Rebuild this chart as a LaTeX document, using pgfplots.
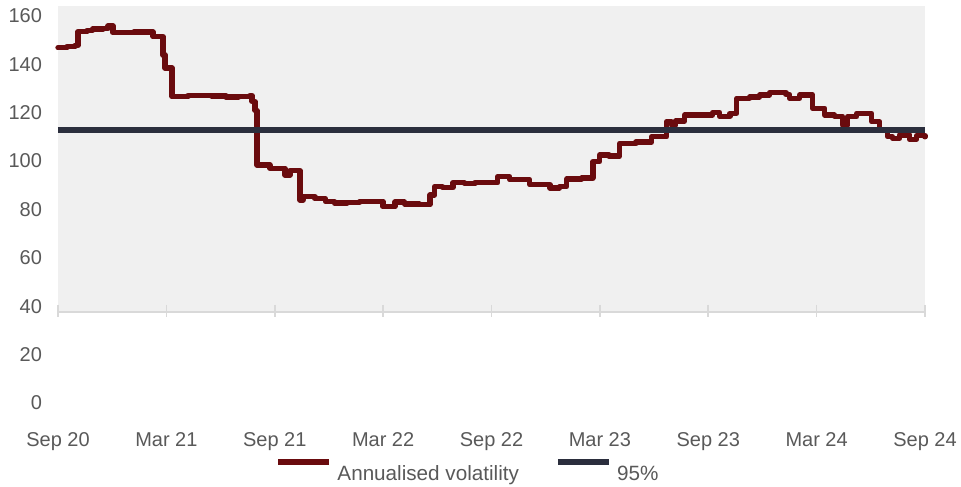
\documentclass[border=0pt]{standalone}
\usepackage{pgfplots}
\pgfplotsset{compat=1.18}
\usepackage{fontspec}
\setmainfont{Liberation Sans}

\definecolor{volred}{HTML}{6A0B0E}
\definecolor{navyline}{HTML}{2B2E3D}
\definecolor{txtgray}{HTML}{595959}
\definecolor{bggray}{HTML}{F0F0F0}
\definecolor{axgray}{HTML}{D9D9D9}

\begin{document}
\begin{tikzpicture}
\useasboundingbox (-43.5pt,-62.25pt) rectangle (677.25pt,302.25pt);
\begin{axis}[
	at={(0,0)}, anchor=south west,
	x=13.547pt, y=1.815pt,
	xmin=0, xmax=48,
	ymin=0, ymax=164,
	clip=false,
	axis line style={draw=none},
	major tick length=0pt,
	tick style={draw=none},
	xtick={0,6,...,48},
	xticklabels={Sep 20,Mar 21,Sep 21,Mar 22,Sep 22,Mar 23,Sep 23,Mar 24,Sep 24},
	ytick={0,20,...,160},
	/pgf/number format/assume math mode=true,
	tick label style={font=\fontsize{15}{18}\selectfont, text=txtgray},
	xticklabel style={anchor=base, yshift=-32.8pt},
	yticklabel style={anchor=east, xshift=-8.5pt},
	legend columns=2,
	legend style={
		draw=none, fill=none,
		at={(0.2503,-0.1714)}, anchor=west,
		inner sep=0pt,
		nodes={inner sep=0pt, text=txtgray},
		font=\fontsize{15.5}{18}\selectfont,
		/tikz/every odd column/.append style={column sep=3.9pt},
		/tikz/every even column/.append style={column sep=27pt},
	},
	legend image code/.code={\draw[#1, line width=4.5pt, line cap=butt] (0pt,9pt) -- (38.25pt,9pt);},
]

% plot background and category axis
\fill[bggray] (axis cs:0,37.6) rectangle (axis cs:48,164);
\draw[axgray, line width=1.5pt] (axis cs:0,37.6) -- (axis cs:48,37.6);
\pgfplotsinvokeforeach{0,6,...,48}{
	\draw[axgray, line width=1.2pt] (axis cs:#1,40.5) -- (axis cs:#1,35.5);
}

% Annualised volatility
\addplot[const plot, volred, line width=4pt, line join=round, line cap=round] coordinates {
	(0,146.8) (0.5,147.2) (0.94,147.8) (1.11,153.4) (1.6,153.8) (1.9,154.5)
	(2.5,154.8) (2.77,155.8) (3.04,153.0) (4.2,153.3) (5.26,151.4) (5.81,143.8)
	(5.92,138.4) (6.31,126.6) (7.2,127.0) (8.5,126.8) (9.3,126.4) (10.0,126.6)
	(10.63,127.0) (10.74,124.6) (10.90,121.0) (11.01,98.3) (11.73,97.0) (12.56,94.2)
	(12.84,96.0) (13.39,83.9) (13.56,85.2) (14.22,84.4) (14.8,83.3) (15.3,82.6)
	(16.0,82.8) (16.71,83.3) (17.99,81.1) (18.65,83.0) (19.20,82.2) (20.03,81.9)
	(20.59,86.0) (20.86,89.4) (21.3,89.0) (21.86,91.0) (22.5,90.6) (23.08,91.0)
	(24.35,93.5) (25.01,92.3) (26.12,90.2) (27.23,88.9) (27.78,89.5) (28.17,92.5)
	(29.0,93.0) (29.61,99.7) (29.99,102.5) (30.5,102.0) (31.10,107.3) (32.0,107.8)
	(32.87,110.0) (33.70,116.2) (33.98,114.9) (34.2,116.5) (34.70,119.0) (36.0,119.0)
	(36.25,120.0) (36.64,118.5) (37.2,119.7) (37.58,125.9) (38.3,126.5) (38.85,127.3)
	(39.40,128.2) (40.3,127.5) (40.51,125.9) (41.06,127.3) (41.78,121.8) (42.45,119.0)
	(43.0,118.5) (43.44,114.9) (43.72,118.3) (44.22,119.7) (45.05,116.2) (45.49,112.8)
	(45.93,110.0) (46.2,109.4) (46.60,110.7) (47.15,109.0) (47.54,110.5) (48,110.0)
};
\addlegendentry{Annualised volatility}

% 95%
\addplot[navyline, line width=4.3pt] coordinates {(0,112.8) (48,112.8)};
\addlegendentry{95\%}

\end{axis}
\end{tikzpicture}
\end{document}
